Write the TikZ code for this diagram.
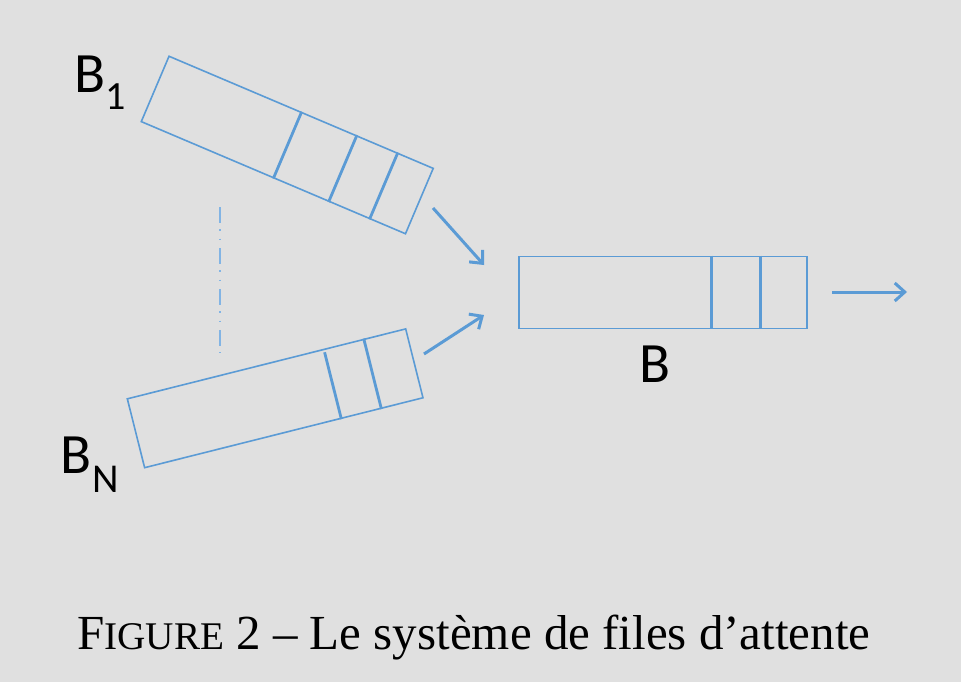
\documentclass[tikz,border=0pt]{standalone}
\usepackage{fontspec}
\setmainfont{Liberation Serif}
\newfontfamily\labelfont{Carlito}
\usetikzlibrary{calc,arrows.meta}
\definecolor{qblue}{RGB}{91,155,213}
\definecolor{qlight}{RGB}{130,180,228}
\definecolor{bg}{RGB}{224,224,224}
\tikzset{
  queue/.style={draw=qblue, line width=1.6pt, minimum height=71pt, inner sep=0pt},
  divider/.style={draw=qblue, line width=2.8pt},
  flow/.style={draw=qblue, line width=3pt, -{Straight Barb[length=10pt,width=18pt,line width=3pt]}},
  qlabel/.style={font=\labelfont\fontsize{57}{60}\selectfont, inner sep=0pt, anchor=base west},
}
\begin{document}
\begin{tikzpicture}[x=1pt,y=-1pt]
\fill[bg] (0,0) rectangle (961,682);
\useasboundingbox (0,0) rectangle (961,682);

% queues
\node[queue, minimum width=287pt, rotate=-23] (b1) at (287.25,145) {};
\node[queue, minimum width=287pt, rotate=14.1] (bn) at (275.15,398.3) {};
\node[queue, minimum width=288pt, minimum height=72pt] (b) at (663.15,292.5) {};

% dividers
\foreach \f in {0.501,0.709,0.863}
  \draw[divider] ($(b1.north west)!\f!(b1.north east)$) -- ($(b1.south west)!\f!(b1.south east)$);
\draw[divider] ($(bn.north west)!0.705!(bn.north east)+(0.9,3.6)$) -- ($(bn.south west)!0.705!(bn.south east)$);
\draw[divider] ($(bn.north west)!0.848!(bn.north east)$) -- ($(bn.south west)!0.848!(bn.south east)$);
\foreach \f in {0.666,0.836}
  \draw[divider] ($(b.north west)!\f!(b.north east)$) -- ($(b.south west)!\f!(b.south east)$);

% dash-dot ellipsis
\coordinate (d1) at (220,207);
\coordinate (d2) at (220,353);
\draw[qlight, line width=1.5pt, dash pattern=on 16pt off 6pt on 1.5pt off 8pt on 1.5pt off 8pt] (d1) -- (d2);

% arrows
\coordinate (a1s) at (433,208);
\coordinate (a1e) at (484,265);
\coordinate (a2s) at (424,354);
\coordinate (a2e) at (484,315);
\coordinate (a3s) at (832,292);
\coordinate (a3e) at (907,292);
\draw[flow] (a1s) -- (a1e);
\draw[flow] (a2s) -- (a2e);
\draw[flow] (a3s) -- (a3e);

% labels
\node[qlabel] (l1) at (74,93) {B\raisebox{-17pt}{\fontsize{40}{44}\selectfont 1}};
\node[qlabel] (ln) at (60,473) {B\kern1pt\raisebox{-19pt}{\fontsize{41}{44}\selectfont N}};
\node[qlabel] (lb) at (639,382) {B};

% caption
\node[inner sep=0pt, anchor=base west, font=\fontsize{49}{56}\selectfont] (cap) at (77,649)
  {F{\fontsize{39.2}{44}\selectfont IGURE} 2 – Le système de files d’attente};
\end{tikzpicture}
\end{document}
